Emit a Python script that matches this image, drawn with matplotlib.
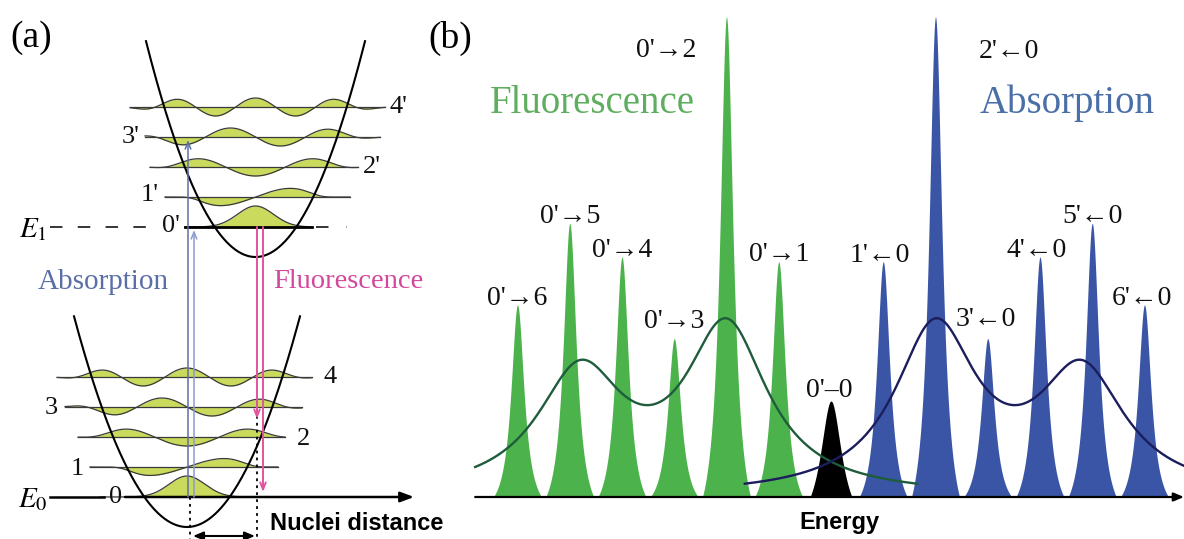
import numpy as np
import matplotlib
matplotlib.use("Agg")
import matplotlib.pyplot as plt

plt.rcParams['font.family'] = ['Liberation Serif', 'DejaVu Serif']
plt.rcParams['mathtext.fontset'] = 'stix'
plt.rcParams['lines.scale_dashes'] = False

# ---------------- (b) vibronic spectrum ----------------
# shift in vibrational quanta from the 0'-0 origin, intensity in % of strongest line
fluor_labels = ["0'→1", "0'→2", "0'→3", "0'→4", "0'→5", "0'→6"]
fluor_shift = [-1, -2, -3, -4, -5, -6]
fluor_intensity = [49, 100, 33, 50, 57, 40]

abs_labels = ["1'←0", "2'←0", "3'←0", "4'←0", "5'←0", "6'←0"]
abs_shift = [1, 2, 3, 4, 5, 6]
abs_intensity = [49, 100, 33, 50, 57, 40]

origin_label = "0'–0"
origin_shift = 0
origin_intensity = 20

# broad (unresolved) band envelopes: two components each
fluor_band_centre = [-2.0, -4.8]
fluor_band_height = [34.4, 25.0]
fluor_band_width = [0.95, 1.0]
abs_band_centre = [2.0, 4.8]
abs_band_height = [34.4, 25.0]
abs_band_width = [0.95, 1.0]

# ---------------- (a) potential wells ----------------
ground_levels = [0, 1, 2, 3, 4]
excited_levels = [0, 1, 2, 3, 4]

W, Hpx = 1184, 539
fig = plt.figure(figsize=(W / 100, Hpx / 100), dpi=100)


def ftext(x, y, s, **kw):
    fig.text(x / W, 1 - y / Hpx, s, **kw)


# ======================= panel (a) =======================
ax = fig.add_axes([0, 0, 420 / W, 1])
ax.set_xlim(0, 420)
ax.set_ylim(-42, 497)
ax.axis('off')

spacing = 30.0
E1 = 270.0
ground = dict(c=187.0, v0=-30.0, k=0.0165, xr=(74, 300))
excited = dict(c=255.5, v0=240.0, k=0.018, xr=(146, 365))

# sketch-style vibrational wavefunctions: lobe spacing and envelope reach per level
ground_lobe = [None, 84, 65, 50, 44]
excited_lobe = [None, 76, 60, 50, 40]
wf_reach = [None, 62, 88, 102, 108]
wf_amp = [21, 9, 9, 9, 9]
fill_col = '#c9da5c'
line_col = '#3a3a3a'


def wave(v, d, lobe):
    if v == 0:
        return np.exp(-(d / 18.0) ** 2 / 2)
    env = np.exp(-(np.abs(d) / wf_reach[v]) ** 6)
    ph = np.pi * d / lobe
    shape = [None, np.sin(ph), -np.cos(ph), -np.sin(ph), np.cos(ph)][v]
    return shape * env


def draw_wf(centre, level, v, x0, x1, lobes):
    x = np.linspace(x0, x1, 500)
    y = level + wf_amp[v] * wave(v, x - centre, lobes[v])
    ax.fill_between(x, level, y, color=fill_col, lw=0, zorder=1)
    ax.plot(x, y, color=line_col, lw=0.9, zorder=2)


ground_span = [(100, 280), (90, 278), (78, 285), (65, 302), (57, 312)]
excited_span = [(185, 312), (165, 350), (150, 358), (145, 380), (130, 385)]

for v in ground_levels:
    lvl = spacing * v
    x0, x1 = ground_span[v]
    draw_wf(ground['c'], lvl, v, x0, x1, ground_lobe)
    if v > 0:
        ax.plot([x0, x1], [lvl, lvl], color=line_col, lw=0.9, zorder=2)

for v in excited_levels:
    lvl = E1 + spacing * v
    x0, x1 = excited_span[v]
    draw_wf(excited['c'], lvl, v, x0, x1, excited_lobe)
    if v > 0:
        ax.plot([x0, x1], [lvl, lvl], color=line_col, lw=0.9, zorder=2)

# potential curves
for well in (ground, excited):
    x = np.linspace(*well['xr'], 300)
    ax.plot(x, well['v0'] + well['k'] * (x - well['c']) ** 2, color='black', lw=1.5, zorder=3)

# E0 axis (nuclear distance)
ax.plot([50, 104], [0, 0], color='black', lw=1.8, zorder=3)
ax.annotate('', xy=(414, 0), xytext=(125, 0),
            arrowprops=dict(arrowstyle='-|>,head_length=0.8,head_width=0.3', color='black', lw=1.8,
                            shrinkA=0, shrinkB=0), zorder=3)
# E1 level
ax.plot([50, 148], [E1, E1], color='black', lw=1.1, linestyle=(0, (9, 11)), zorder=3)
ax.plot([185, 312], [E1, E1], color='black', lw=2.0, zorder=3)
ax.plot([316, 347], [E1, E1], color='black', lw=1.1, linestyle=(0, (9, 13)), zorder=3)


def varrow(x, y0, y1, col, lw, style):
    ax.annotate('', xy=(x, y1), xytext=(x, y0),
                arrowprops=dict(arrowstyle=style, color=col, lw=lw, shrinkA=0, shrinkB=0), zorder=4)


varrow(188, 0, E1 + 3 * spacing - 3, '#5d6fa6', 1.1, '->,head_length=0.5,head_width=0.2')
varrow(194, 0, E1 - 3, '#8a9bd0', 1.1, '->,head_length=0.5,head_width=0.2')
varrow(257, E1, 3 * spacing - 12, '#e0559e', 1.4, '->,head_length=0.5,head_width=0.2')
varrow(263, E1, 5, '#e0559e', 1.4, '->,head_length=0.5,head_width=0.2')

ax.plot([190, 190], [0, -42], color='black', lw=1.3, linestyle=(0, (2, 3)), zorder=3)
ax.plot([257, 257], [95, -42], color='black', lw=1.3, linestyle=(0, (2, 3)), zorder=3)
ax.annotate('', xy=(193, -39), xytext=(255, -39),
            arrowprops=dict(arrowstyle='<|-|>,head_length=0.6,head_width=0.25', color='black', lw=1.5,
                            shrinkA=0, shrinkB=0), zorder=3)

lab = dict(fontsize=19, ha='center', va='center', color='#111111')
ax.text(171, E1 + 1, "0'", **lab)
ax.text(150, E1 + spacing + 2, "1'", **lab)
ax.text(372, E1 + 2 * spacing, "2'", **lab)
ax.text(131, E1 + 3 * spacing, "3'", **lab)
ax.text(398, E1 + 4 * spacing, "4'", **lab)
ax.text(116, 0, "0", **lab)
ax.text(77, spacing - 2, "1", **lab)
ax.text(304, 2 * spacing - 2, "2", **lab)
ax.text(51, 3 * spacing - 1, "3", **lab)
ax.text(330, 4 * spacing, "4", **lab)
ax.text(33, E1 - 3, r"$E_1$", fontsize=21, ha='center', va='center')
ax.text(33, -3, r"$E_0$", fontsize=21, ha='center', va='center')

ftext(103, 282, "Absorption", fontsize=21, color='#5a6ea8', ha='center', va='center')
ftext(273, 282, "Fluorescence", fontsize=20.5, color='#d2469b', ha='left', va='center')
ftext(270, 523, "Nuclei distance", fontsize=17, fontweight='bold', family='Liberation Sans',
      ha='left', va='center')
ftext(31, 38, "(a)", fontsize=27, ha='center', va='center')

# ======================= panel (b) =======================
bx = fig.add_axes([420 / W, 0, 764 / W, 1])
bx.set_xlim(-7.866, 6.756)
bx.set_ylim(-8.75, 103.54)
bx.axis('off')

E = np.linspace(-7.866, 6.756, 6000)


def line_shape(c, h, w=0.153, cut=0.46):
    d = np.abs(E - c)
    L = 1 / (1 + (d / w) ** 2)
    Lc = 1 / (1 + (cut / w) ** 2)
    return h * np.clip((L - Lc) / (1 - Lc), 0, None)


green = '#4cb34c'
blue = '#3a55a5'
for c, h in zip(fluor_shift, fluor_intensity):
    bx.fill_between(E, 0, line_shape(c, h), where=np.abs(E - c) < 0.5, color=green, lw=0, zorder=1)
for c, h in zip(abs_shift, abs_intensity):
    bx.fill_between(E, 0, line_shape(c, h), where=np.abs(E - c) < 0.5, color=blue, lw=0, zorder=1)
bx.fill_between(E, 0, line_shape(origin_shift, origin_intensity, w=0.25, cut=0.4),
                where=np.abs(E - origin_shift) < 0.42, color='black', lw=0, zorder=1)


def band(centres, heights, widths, x):
    return sum(h / (1 + ((x - c) / w) ** 2) for c, h, w in zip(centres, heights, widths))


xf = np.linspace(-6.81, 1.65, 600)
bx.plot(xf, band(fluor_band_centre, fluor_band_height, fluor_band_width, xf),
        color='#1f5c3c', lw=1.7, zorder=3)
xa = np.linspace(-1.65, 6.756, 600)
bx.plot(xa, band(abs_band_centre, abs_band_height, abs_band_width, xa),
        color='#1b1d5c', lw=1.7, zorder=3)

bx.annotate('', xy=(6.756, 0), xytext=(-6.81, 0),
            arrowprops=dict(arrowstyle='-|>,head_length=0.6,head_width=0.25', color='black', lw=1.6,
                            shrinkA=0, shrinkB=0), zorder=4)

# line labels: horizontal / vertical nudges in quanta and % units
fluor_nudge = [(0, 0.2), (-1.15, -8.3), (0, 2.2), (0, 0), (0, 0), (0, 0)]
abs_nudge = [(-0.06, 0), (1.4, -8.5), (-0.04, 2.6), (-0.06, 0), (0, 0), (-0.04, 0)]
tk = dict(fontsize=20, ha='center', va='baseline', color='#111111', zorder=5)
for s, c, h, (dx, dy) in zip(fluor_labels, fluor_shift, fluor_intensity, fluor_nudge):
    bx.text(c + dx, h + dy, s, **tk)
for s, c, h, (dx, dy) in zip(abs_labels, abs_shift, abs_intensity, abs_nudge):
    bx.text(c + dx, h + dy, s, **tk)
bx.text(origin_shift - 0.04, origin_intensity + 0.8, origin_label, **tk)

ftext(592, 113, "Fluorescence", fontsize=28, color='#5fae5f', ha='center', va='baseline')
ftext(1067, 113, "Absorption", fontsize=28, color='#4a6fa8', ha='center', va='baseline')
ftext(839, 523, "Energy", fontsize=17, fontweight='bold', family='Liberation Sans',
      ha='center', va='center')
ftext(450, 38, "(b)", fontsize=27, ha='center', va='center')

fig.savefig('out.png', dpi=100)
